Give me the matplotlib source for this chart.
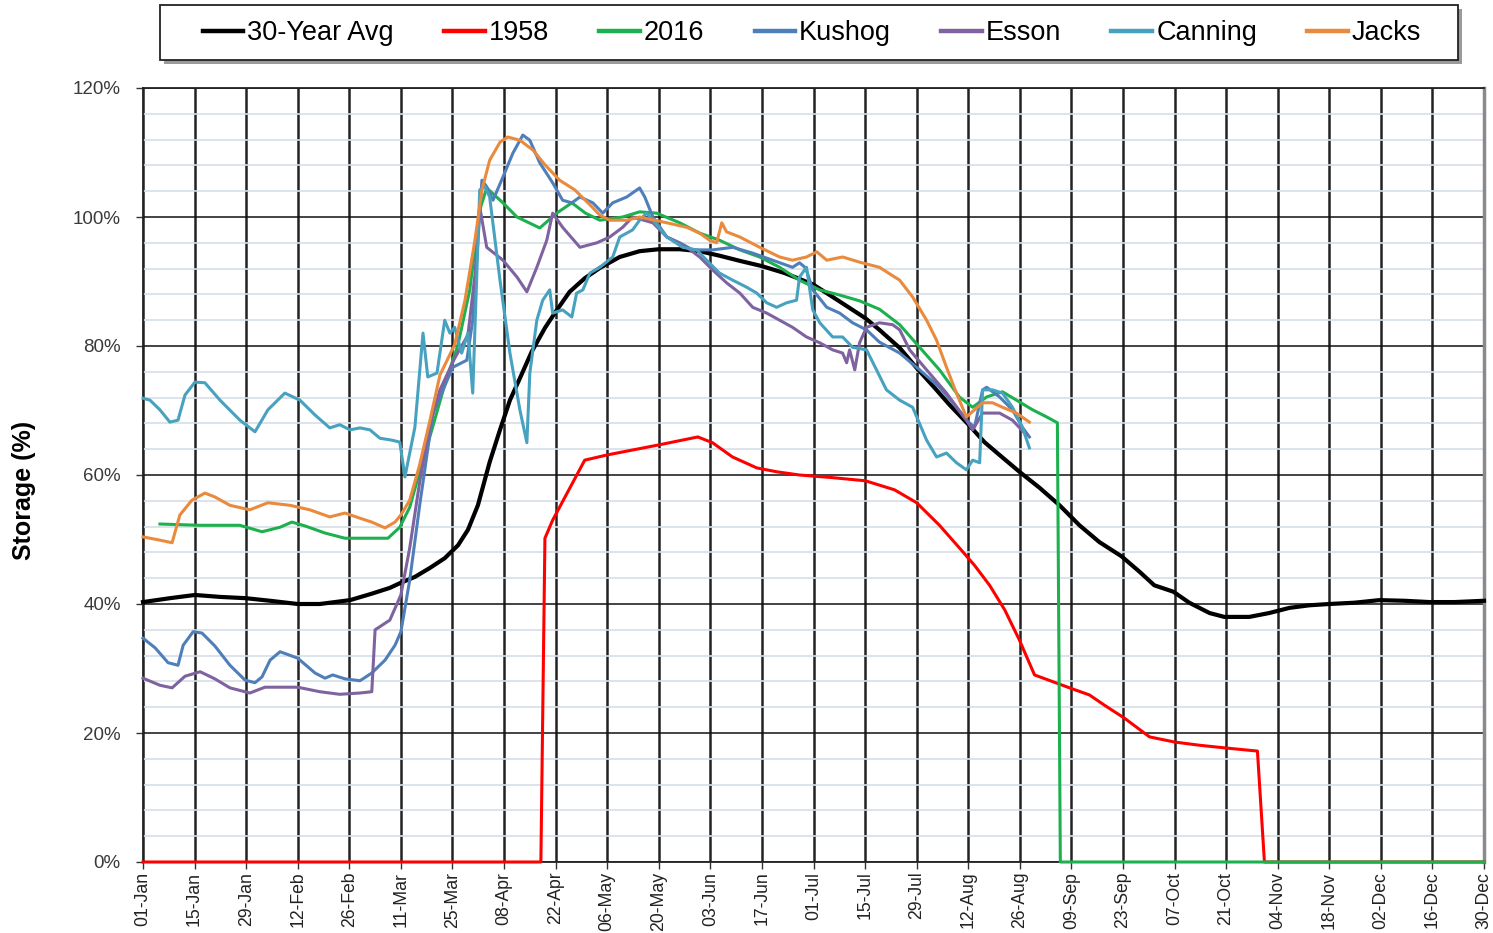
import matplotlib
matplotlib.use("Agg")
import matplotlib.pyplot as plt
from matplotlib.patches import Rectangle
import numpy as np
import pandas as pd

plt.rcParams["font.family"] = ["Liberation Sans", "DejaVu Sans"]

# ---- data: day of year (0 = 01-Jan, 2016 calendar) and storage in percent ----
avg_day = [0, 7.3, 14.1, 20.9, 27.9, 34.5, 42, 48, 56.2, 62.1, 67, 70, 73.8, 77.9, 81.9,
           85.5, 88.2, 90.9, 94.1, 96.9, 99.6, 102.3, 105.5, 109.1, 112, 115.8, 119.9,
           124, 129.4, 134.8, 140, 145.7, 151.1, 156.5, 162, 167.9, 174.2, 178.2, 182,
           186.4, 191.8, 196.1, 199.9, 205.4, 210, 214.9, 218.9, 224.1, 228.4, 232.5,
           237.9, 243.4, 248.8, 254.2, 259.6, 265.6, 270.5, 274.5, 279.7, 284, 289.5,
           293.5, 300.3, 305.7, 311.2, 316.6, 322, 328.8, 335.6, 342.4, 349.2, 356, 364]
avg_pct = [40.3, 40.9, 41.4, 41.1, 40.9, 40.5, 40.0, 40.0, 40.6, 41.6, 42.5, 43.3, 44.2,
           45.6, 47.1, 49.1, 51.5, 55.3, 62.0, 67.0, 71.6, 75.0, 79.1, 82.8, 85.3, 88.4,
           90.5, 92.1, 93.8, 94.7, 95.0, 95.0, 94.7, 94.0, 93.2, 92.4, 91.3, 90.4, 89.5,
           87.9, 85.9, 84.3, 82.5, 79.7, 76.6, 73.5, 70.9, 67.8, 65.1, 63.1, 60.5, 58.0,
           55.3, 52.2, 49.6, 47.4, 45.0, 42.9, 41.9, 40.2, 38.6, 38.0, 38.0, 38.6, 39.4,
           39.8, 40.0, 40.2, 40.6, 40.5, 40.3, 40.3, 40.5]

y1958_day = [0, 108, 109.1, 111.2, 119.9, 125.9, 140.3, 150.6, 154.6, 160, 166.6, 172,
             178.2, 187, 196.1, 204, 210, 216.2, 221.6, 225.7, 229.8, 233.9, 237.9, 242,
             251.5, 256.9, 261, 266.4, 273.2, 280, 286.8, 293.5, 302.5, 304.4, 364]
y1958_pct = [0, 0, 50.2, 53.0, 62.3, 63.1, 64.7, 65.9, 65.0, 62.8, 61.1, 60.5, 60.0, 59.6,
             59.1, 57.7, 55.7, 52.2, 48.7, 46.0, 42.9, 39.1, 34.4, 29.0, 27.0, 25.9, 24.3,
             22.3, 19.4, 18.6, 18.1, 17.7, 17.2, 0, 0]

y2016_day = [4.6, 15.5, 26.3, 32.3, 37.2, 40.4, 44, 49.4, 54.8, 66.5, 69.7, 72.4, 75.1,
             78.4, 81.9, 85.5, 88.7, 91.4, 93.3, 97.7, 101.5, 107.7, 112.3, 116.4, 120.1,
             124, 130.2, 134.8, 139.4, 145.7, 151.1, 156.5, 162, 167.4, 172.8, 178.2,
             183.7, 189.1, 194.5, 199.9, 205.4, 210.8, 216.2, 221.6, 225.2, 229, 233.3,
             237.1, 241.5, 245.3, 248.2, 249, 364]
y2016_pct = [52.4, 52.2, 52.2, 51.2, 51.9, 52.7, 52.1, 51.0, 50.2, 50.2, 51.9, 55.0, 60.5,
             67.0, 74.0, 80.2, 88.7, 101.1, 104.5, 102.2, 100.0, 98.3, 100.6, 102.2, 100.6,
             99.5, 100.0, 100.8, 100.6, 99.1, 97.5, 96.4, 94.9, 93.8, 92.2, 90.2, 88.7,
             87.9, 87.0, 85.7, 83.3, 79.8, 76.3, 72.1, 70.5, 72.1, 72.9, 71.6, 70.1, 69.0,
             68.1, 0, 0]

kushog_day = [0, 3.3, 6.8, 9.5, 10.9, 13.6, 16, 19.5, 23.6, 27.7, 30.4, 32.3, 34.5, 37.2,
              42, 46.7, 49.4, 51.5, 54.8, 58.9, 62.1, 65.7, 68.4, 70, 72.4, 75.1, 78.7,
              84.1, 87.9, 89.5, 92, 93.3, 95, 97.7, 100.4, 103.1, 105, 107.7, 111.2, 113.9,
              116.4, 118.6, 122.1, 124.8, 127.5, 131.3, 134.8, 136.2, 138.4, 142.2, 145.7,
              149.2, 154.6, 160.1, 165.5, 170.9, 176.3, 178.2, 179.9, 181.8, 185.6, 189.1,
              192.6, 196.4, 199.9, 205.4, 210.8, 216.2, 219.8, 223.5, 225.7, 227.9, 229,
              232.5, 236, 238.7, 240.6]
kushog_pct = [34.7, 33.2, 30.9, 30.5, 33.6, 35.7, 35.5, 33.5, 30.5, 28.2, 27.8, 28.7, 31.3,
              32.6, 31.6, 29.3, 28.5, 29.0, 28.4, 28.1, 29.3, 31.3, 33.6, 35.7, 43.7, 55.3,
              69.6, 76.7, 77.8, 84.0, 105.7, 104.7, 102.6, 106.2, 109.9, 112.7, 111.9,
              108.4, 105.3, 102.6, 102.2, 103.1, 102.2, 100.6, 102.2, 103.1, 104.5, 103.1,
              100.0, 96.9, 96.0, 94.9, 94.9, 95.3, 94.4, 93.3, 92.2, 92.9, 92.1, 88.7, 86.0,
              85.1, 83.6, 82.5, 80.6, 78.9, 76.3, 73.6, 71.2, 68.5, 67.4, 73.2, 73.6, 72.1,
              70.1, 67.4, 65.9]

esson_day = [0, 4.6, 7.9, 11.4, 15.5, 19.5, 23.6, 29, 33.1, 42, 48, 53.4, 58.9, 62.1, 63,
             67, 70, 72.4, 75.1, 77.9, 80.6, 84.6, 88.2, 90.1, 91.4, 93.3, 97.7, 101.5,
             104.2, 106.9, 109.6, 111.2, 113.9, 118.6, 123.2, 126.7, 130.2, 132.9, 138.4,
             142.2, 147.6, 151.1, 154.6, 158.4, 162, 165.5, 169.3, 172.8, 176.3, 180.1,
             183.7, 187.2, 189.9, 191, 191.8, 193.2, 194.5, 196.4, 199.9, 203.5, 205.4,
             208.1, 212.7, 218.1, 223.5, 225.2, 227.9, 232.5, 236, 239.8]
esson_pct = [28.5, 27.4, 27.0, 28.8, 29.5, 28.4, 27.0, 26.2, 27.1, 27.1, 26.4, 26.0, 26.2,
             26.4, 36.0, 37.5, 41.4, 48.7, 58.9, 67.8, 73.2, 78.1, 81.7, 91.0, 101.6, 95.3,
             93.3, 90.7, 88.4, 92.2, 96.4, 100.6, 98.4, 95.3, 96.0, 96.9, 98.4, 100.0, 99.1,
             96.9, 95.3, 93.8, 91.8, 89.8, 88.2, 86.0, 85.1, 84.0, 82.9, 81.4, 80.5, 79.4,
             78.9, 77.4, 79.4, 76.3, 80.5, 82.9, 83.6, 83.3, 82.5, 79.4, 76.3, 72.7, 68.5,
             67.0, 69.6, 69.6, 68.5, 66.2]

canning_day = [0, 1.9, 4.6, 7.3, 9.5, 11.4, 14.1, 16.8, 20.9, 26.3, 30.4, 33.9, 38.5, 42.6,
               46.7, 50.7, 53.4, 56.2, 58.9, 61.6, 64.3, 67.6, 69.7, 71.1, 73.8, 76, 77.3,
               79.8, 81.9, 83.3, 84.6, 86.5, 88.2, 89.5, 91.4, 92.8, 94.1, 96.9, 99.6,
               102.3, 104.2, 105, 106.9, 108.5, 110.4, 111.2, 113.9, 116.4, 117.7, 119.4,
               121.3, 124, 127.5, 129.4, 132.9, 134.8, 136.7, 138.4, 142.2, 146.5, 150.3,
               153, 156.5, 160.1, 163.9, 166.6, 169.3, 172, 174.7, 177.4, 178.2, 180.1,
               181.8, 183.7, 187.2, 189.9, 192.6, 196.4, 199.1, 201.8, 205.4, 208.9, 212.7,
               215.4, 218.1, 220.8, 223.5, 225.2, 227.1, 227.9, 230.6, 233.3, 236, 238.7,
               240.6]
canning_pct = [71.9, 71.6, 70.1, 68.2, 68.5, 72.4, 74.4, 74.3, 71.6, 68.5, 66.7, 70.1, 72.7,
               71.6, 69.3, 67.3, 67.8, 67.0, 67.3, 67.0, 65.7, 65.4, 65.1, 59.7, 67.4, 82.0,
               75.2, 75.8, 84.0, 82.0, 82.9, 78.9, 82.0, 72.7, 104.2, 104.7, 103.1, 90.2,
               78.9, 70.1, 65.0, 75.8, 84.0, 87.1, 88.7, 85.1, 85.6, 84.5, 88.2, 88.7, 91.3,
               92.2, 93.8, 96.9, 98.0, 99.5, 100.6, 99.5, 96.9, 95.3, 94.9, 93.3, 91.3, 90.2,
               89.1, 88.2, 86.7, 86.0, 86.7, 87.1, 90.7, 92.2, 85.6, 83.6, 81.4, 81.4, 79.8,
               79.4, 76.3, 73.2, 71.6, 70.5, 65.4, 62.8, 63.4, 61.9, 60.8, 62.3, 61.9, 73.2,
               73.2, 72.7, 70.5, 67.4, 64.2]

jacks_day = [0, 4.6, 7.9, 10, 13.3, 16.8, 19.5, 23.6, 29, 33.9, 39.9, 45.3, 50.7, 54.8,
             58.9, 62.1, 65.7, 68.4, 70, 72.4, 75.1, 77.9, 80.6, 84.6, 87.4, 90.1, 92,
             94.1, 96.9, 99, 102.3, 105.8, 109.1, 113.1, 117.2, 121.3, 124, 126.7, 131.3,
             134.8, 142.2, 147.6, 151.1, 153.8, 155.7, 157.1, 158.4, 162, 167.4, 172.8,
             176.3, 180.1, 182.9, 185.6, 189.9, 194.5, 199.9, 205.4, 208.9, 212.7, 215.4,
             218.1, 220.8, 223.5, 225.7, 227.9, 230.6, 233.3, 237.1, 240.6]
jacks_pct = [50.4, 49.9, 49.5, 53.8, 56.1, 57.2, 56.6, 55.3, 54.6, 55.7, 55.3, 54.6, 53.5,
             54.1, 53.3, 52.7, 51.8, 52.7, 53.8, 56.1, 61.6, 68.5, 75.5, 80.2, 87.1, 96.4,
             104.2, 108.8, 111.6, 112.4, 111.9, 110.4, 108.1, 105.7, 104.2, 101.9, 100.3,
             99.5, 99.5, 100.0, 99.1, 98.4, 97.5, 96.4, 96.0, 99.1, 97.7, 96.9, 95.3, 93.8,
             93.3, 93.8, 94.6, 93.3, 93.8, 93.0, 92.2, 90.2, 87.6, 84.0, 80.9, 76.7, 72.7,
             69.0, 70.1, 71.2, 71.2, 70.5, 69.6, 68.2]

series_names = ["30-Year Avg", "1958", "2016", "Kushog", "Esson", "Canning", "Jacks"]
series_colors = ["#000000", "#FF0000", "#1DB04E", "#4F7FBA", "#7E63A0", "#47A2BF", "#E98A3C"]
series_days = [avg_day, y1958_day, y2016_day, kushog_day, esson_day, canning_day, jacks_day]
series_vals = [avg_pct, y1958_pct, y2016_pct, kushog_pct, esson_pct, canning_pct, jacks_pct]
series_widths = [3.0, 2.2, 2.2, 2.2, 2.2, 2.2, 2.2]

tick_dates = pd.date_range("2016-01-01", periods=27, freq="14D")
tick_days = [(d - tick_dates[0]).days for d in tick_dates]
tick_labels = [d.strftime("%d-%b") for d in tick_dates]

# ---- figure ----
W, H = 1493, 933
fig = plt.figure(figsize=(W / 100, H / 100), dpi=100)
ax = fig.add_axes([143 / W, 1 - 862 / H, (1484 - 143) / W, (862 - 88) / H])

ax.set_xlim(0, 364)
ax.set_ylim(0, 120)

# grid: light minor rows every 4 %, black major rows and date columns
ax.set_yticks(np.arange(0, 121, 4), minor=True)
ax.set_yticks(np.arange(0, 121, 20))
ax.set_yticklabels([f"{v}%" for v in range(0, 121, 20)], fontsize=13.5, color="#3a3a3a")
ax.grid(which="minor", axis="y", color="#D5DEE8", lw=1.2, zorder=0)
ax.grid(which="major", axis="y", color="#111111", lw=1.1, zorder=0.5)
ax.set_xticks(tick_days)
ax.set_xticklabels(tick_labels, rotation=90, fontsize=12.7, color="#222222")
ax.grid(which="major", axis="x", color="#222222", lw=1.8, zorder=0.5)
ax.tick_params(axis="y", which="minor", length=0)
ax.tick_params(axis="y", which="major", length=5, width=1, color="#333333", pad=11)
ax.tick_params(axis="x", which="major", length=5, width=1, color="#333333", pad=2)

for side in ["left", "bottom", "top"]:
    ax.spines[side].set_color("#222222")
    ax.spines[side].set_linewidth(1.3)
ax.spines["right"].set_color("#8a8a8a")
ax.spines["right"].set_linewidth(2.5)

handles = []
for name, col, xs, ys, lw in zip(series_names, series_colors, series_days, series_vals,
                                  series_widths):
    (h,) = ax.plot(xs, ys, color=col, lw=lw, label=name, solid_joinstyle="round",
                   zorder=3, clip_on=False)
    handles.append(h)

ax.set_ylabel("Storage (%)", fontsize=18, fontweight="bold")
ax.yaxis.set_label_coords(-0.08, 0.48)

# legend box with a soft drop shadow, entries laid out inside it
box_x0, box_y0, box_w, box_h = 160 / W, 1 - 60 / H, (1458 - 160) / W, 55 / H
fig.patches.append(Rectangle((box_x0 + 4 / W, box_y0 - 4 / H), box_w, box_h,
                             transform=fig.transFigure, facecolor="#9a9a9a",
                             edgecolor="none", zorder=1))
fig.patches.append(Rectangle((box_x0, box_y0), box_w, box_h, transform=fig.transFigure,
                             facecolor="white", edgecolor="#222222", lw=1.3, zorder=2))
leg = fig.legend(handles=handles, labels=series_names, ncol=7, loc="center",
                 bbox_to_anchor=(812 / W, 1 - 33 / H), fontsize=19.5,
                 handlelength=1.5, handletextpad=0.15, columnspacing=1.85,
                 frameon=False, borderaxespad=0)
for lh in leg.get_lines():
    lh.set_linewidth(3.2)

fig.savefig("out.png", dpi=100)
